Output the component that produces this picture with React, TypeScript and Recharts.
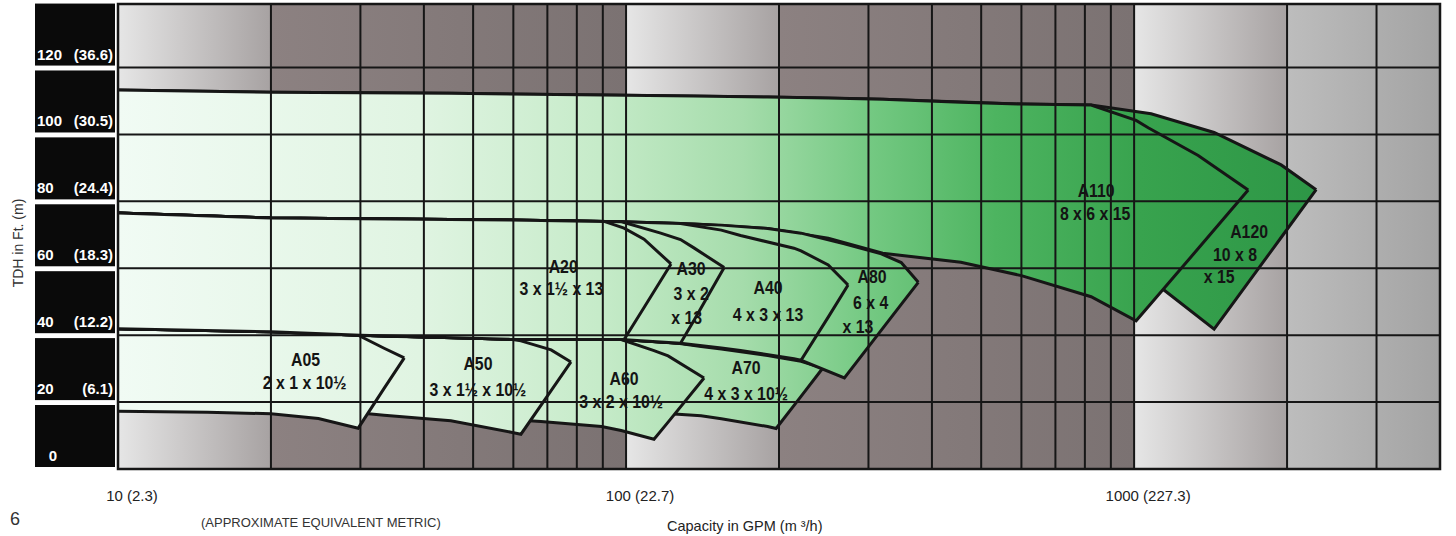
import React from "react";
import {
  ComposedChart,
  Area,
  XAxis,
  YAxis,
  ReferenceArea,
  ReferenceLine,
  ReferenceDot,
} from "recharts";

// each row: [capacity gpm, lower edge ft, upper edge ft]
const a120Pts = [
  [10, 80.0, 113.3], [20, 79.5, 112.6], [45, 79.0, 112.3], [90, 78.0, 111.8],
  [190, 76.0, 111.2], [320, 71.5, 110.5], [600, 64.0, 109.1], [823, 60.0, 108.8],
  [1080, 56.5, 106.2], [1437, 41.8, 100.6], [1947, 69.2, 90.9], [2282, 83.5, 83.5],
];
const a110Pts = [
  [10, 76.5, 113.3], [20, 75.0, 112.6], [45, 74.6, 112.3], [90, 74.0, 111.8],
  [136, 73.2, 111.5], [190, 71.9, 111.2], [250, 69.0, 110.9], [320, 64.5, 110.5],
  [456, 61.8, 109.6], [600, 57.8, 109.1], [823, 51.5, 108.8], [1009, 44.3, 104.2],
  [1066, 48.5, 102.0], [1337, 65.9, 93.7], [1677, 83.4, 83.4],
];
const a80Pts = [
  [10, 41.9, 76.5], [20, 41.0, 75.0], [30, 40.0, 74.8], [59, 38.8, 74.4],
  [98, 38.7, 73.9], [128, 37.6, 73.4], [154, 36.2, 72.9], [190, 34.5, 71.9],
  [221, 32.5, 70.5], [269, 27.2, 67.3], [318, 41.5, 64.3], [348, 49.2, 61.7],
  [376, 55.8, 55.8],
];
const a40Pts = [
  [10, 41.9, 76.5], [20, 41.0, 75.0], [30, 40.0, 74.8], [59, 38.8, 74.4],
  [98, 38.7, 73.9], [128, 37.6, 73.4], [154, 36.2, 71.4], [168, 35.4, 69.8],
  [214, 33.0, 66.0], [221, 32.5, 65.2], [250, 45.4, 61.0], [273.5, 55.0, 55.0],
];
const a30Pts = [
  [10, 41.9, 76.5], [20, 41.0, 75.0], [30, 40.0, 74.8], [59, 38.8, 74.4],
  [98, 38.7, 73.9], [117, 38.0, 70.5], [128, 37.6, 68.6], [136, 44.4, 66.1],
  [156, 60.2, 60.2],
];
const a20Pts = [
  [10, 41.9, 76.5], [20, 41.0, 75.0], [30, 40.0, 74.8], [59, 38.8, 74.4],
  [90.5, 38.7, 74.0], [99.1, 38.7, 72.0], [108.5, 48.3, 68.7], [122.6, 61.3, 61.3],
];
const a70Pts = [
  [10, 20.0, 41.9], [20, 19.3, 41.0], [30, 18.8, 40.0], [59, 17.8, 38.8],
  [98, 17.0, 38.7], [126.6, 16.4, 37.6], [140.5, 15.9, 36.6], [154, 15.0, 35.9],
  [190, 12.7, 33.9], [197.4, 12.1, 33.5], [221, 21.7, 32.2], [244, 30.2, 30.2],
];
const a60Pts = [
  [10, 19.5, 41.9], [20, 19.0, 41.0], [30, 18.3, 40.0], [45, 16.5, 39.4],
  [59, 14.8, 38.8], [68, 14.2, 38.7], [89.5, 12.7, 38.7], [97.8, 11.5, 38.7],
  [113.5, 8.9, 35.4], [121, 14.0, 33.8], [142.4, 27.2, 27.2],
];
const a50Pts = [
  [10, 18.5, 41.9], [20, 17.5, 41.0], [29.7, 16.8, 40.0], [33.4, 16.1, 39.7],
  [45.2, 14.4, 39.3], [59.4, 11.0, 38.8], [62.1, 10.4, 38.3], [71.2, 23.4, 35.6],
  [77.9, 32.0, 32.0],
];
const a05Pts = [
  [10, 17.3, 41.9], [15, 17.0, 41.5], [20, 16.5, 41.0], [24.8, 15.1, 40.5],
  [29.7, 12.2, 40.0], [33.4, 24.1, 36.1], [36.6, 33.2, 33.2],
];

// drawing order: big pumps first so the smaller envelopes sit on top
const pumpOrder = [a120Pts, a110Pts, a70Pts, a60Pts, a50Pts, a05Pts, a80Pts, a40Pts, a30Pts, a20Pts];
const pumpNames = ["A120", "A110", "A70", "A60", "A50", "A05", "A80", "A40", "A30", "A20"];

// model labels: [text, gpm, ft]
const pumpLabels = [
  ["A05", 23.4, 32.4], ["2 x 1 x 10½", 23.3, 25.8],
  ["A50", 51.1, 31.2], ["3 x 1½ x 10½", 51.1, 23.5],
  ["A60", 99.1, 26.8], ["3 x 2 x 10½", 97.8, 19.9],
  ["A70", 172.3, 30.0], ["4 x 3 x 10½", 172.3, 22.5],
  ["A20", 75.2, 60.4], ["3 x 1½ x 13", 74.6, 53.8],
  ["A30", 134.3, 59.8], ["3 x 2", 134.3, 52.3], ["x 13", 131.6, 45.0],
  ["A40", 190.3, 54.0], ["4 x 3 x 13", 190.3, 45.9],
  ["A80", 305, 57.2], ["6 x 4", 303, 49.7], ["x 13", 286, 42.5],
  ["A110", 842, 83.0], ["8 x 6 x 15", 838, 76.2],
  ["A120", 1684, 70.8], ["10 x 8", 1580, 63.9], ["x 15", 1470, 57.3],
];

const headTicks = [0, 20, 40, 60, 80, 100, 120];
const headMetric = ["", "(6.1)", "(12.2)", "(18.3)", "(24.4)", "(30.5)", "(36.6)"];
const gpmGrid = [10, 20, 30, 40, 50, 60, 70, 80, 90, 100, 200, 300, 400, 500, 600, 700, 800, 900, 1000, 2000, 3000, 4000];
const gpmLabelValues = [10, 100, 1000];
const gpmLabelText = ["10 (2.3)", "100 (22.7)", "1000 (227.3)"];

// background shading per decade
const lightBands = [[10, 20], [100, 200], [1000, 2000]];
const darkBands = [[20, 100], [200, 1000]];
const greyBands = [[2000, 4000]];

const SANS = '"Liberation Sans",Arial,Helvetica,sans-serif';
const INK = "#161616";

function HeadTick({ y, payload }: any) {
  const i = headTicks.indexOf(payload.value);
  const common = { fill: "#fff", fontSize: 15, fontWeight: 700, fontFamily: SANS };
  return (
    <g>
      <rect x={35} y={y - 64} width={80} height={62} fill="#0a0a0a" />
      {payload.value === 0 ? (
        <text x={53} y={y - 8} textAnchor="middle" {...common}>0</text>
      ) : (
        <>
          <text x={37} y={y - 8} textAnchor="start" {...common}>{payload.value}</text>
          <text x={113} y={y - 8} textAnchor="end" {...common}>{headMetric[i]}</text>
        </>
      )}
    </g>
  );
}

function GpmTick({ x, y, payload }: any) {
  const i = gpmLabelValues.indexOf(payload.value);
  if (i < 0) return <g />;
  return (
    <text x={x + 14} y={y + 24} textAnchor="middle" fontSize={15} fill="#222" fontFamily={SANS}>
      {gpmLabelText[i]}
    </text>
  );
}

const toRows = (pts: number[][]) => pts.map(([q, lo, hi]) => ({ q, range: [lo, hi] }));

export default function App() {
  return (
    <div style={{ position: "absolute", left: 0, top: 0, width: 1456, height: 536, background: "#fff" }}>
      <ComposedChart width={1456} height={536} margin={{ top: 4, right: 16, bottom: 37, left: 0 }}>
        <defs>
          <linearGradient id="greenFade" gradientUnits="userSpaceOnUse" x1={118} y1={0} x2={1320} y2={0}>
            <stop offset="0" stopColor="#f1fbf4" />
            <stop offset="0.25" stopColor="#e0f4e2" />
            <stop offset="0.4" stopColor="#c6ebc9" />
            <stop offset="0.52" stopColor="#a5dcab" />
            <stop offset="0.62" stopColor="#76ca84" />
            <stop offset="0.73" stopColor="#4db460" />
            <stop offset="0.85" stopColor="#38a34e" />
            <stop offset="1" stopColor="#2d9646" />
          </linearGradient>
          <linearGradient id="lightFade" x1="0" y1="0" x2="1" y2="0">
            <stop offset="0" stopColor="#e6e6e6" />
            <stop offset="1" stopColor="#a7a2a2" />
          </linearGradient>
          <linearGradient id="darkFade" x1="0" y1="0" x2="1" y2="0">
            <stop offset="0" stopColor="#8c8181" />
            <stop offset="1" stopColor="#7b7272" />
          </linearGradient>
          <linearGradient id="greyFade" x1="0" y1="0" x2="1" y2="0">
            <stop offset="0" stopColor="#bdbdbd" />
            <stop offset="1" stopColor="#a3a3a3" />
          </linearGradient>
        </defs>
        <XAxis
          dataKey="q"
          type="number"
          scale="log"
          domain={[10, 4000]}
          ticks={gpmGrid}
          interval={0}
          allowDataOverflow
          axisLine={false}
          tickLine={false}
          tick={<GpmTick />}
          height={30}
        />
        <YAxis
          type="number"
          domain={[0, 139]}
          ticks={headTicks}
          interval={0}
          allowDataOverflow
          axisLine={false}
          tickLine={false}
          tick={<HeadTick />}
          width={118}
        />
        {lightBands.map(([a, b]) => (
          <ReferenceArea key={"l" + a} x1={a} x2={b} y1={0} y2={139} fill="url(#lightFade)" fillOpacity={1} stroke="none" zIndex={-60} />
        ))}
        {darkBands.map(([a, b]) => (
          <ReferenceArea key={"d" + a} x1={a} x2={b} y1={0} y2={139} fill="url(#darkFade)" fillOpacity={1} stroke="none" zIndex={-60} />
        ))}
        {greyBands.map(([a, b]) => (
          <ReferenceArea key={"g" + a} x1={a} x2={b} y1={0} y2={139} fill="url(#greyFade)" fillOpacity={1} stroke="none" zIndex={-60} />
        ))}
        {pumpOrder.map((pts, i) => (
          <Area
            key={pumpNames[i]}
            name={pumpNames[i]}
            data={toRows(pts)}
            dataKey="range"
            type="linear"
            fill="url(#greenFade)"
            fillOpacity={1}
            stroke={INK}
            strokeWidth={3}
            dot={false}
            activeDot={false}
            isAnimationActive={false}
          />
        ))}
        {gpmGrid.map((v) => (
          <ReferenceLine key={"vx" + v} x={v} stroke={INK} strokeWidth={2} zIndex={450} />
        ))}
        {headTicks.map((v) => (
          <ReferenceLine key={"hy" + v} y={v} stroke={INK} strokeWidth={2} zIndex={450} />
        ))}
        <ReferenceArea x1={10} x2={4000} y1={0} y2={139} fill="none" stroke={INK} strokeWidth={2.5} zIndex={460} />
        {pumpLabels.map(([t, q, h], i) => (
          <ReferenceDot
            key={"lab" + i}
            x={q as number}
            y={h as number}
            r={1}
            zIndex={700}
            shape={(p: any) => (
              <text
                transform={`translate(${p.cx},${p.cy}) scale(0.88,1)`}
                x={0}
                y={0}
                textAnchor="middle"
                dominantBaseline="central"
                fontSize={18}
                fontWeight={700}
                fontFamily={SANS}
                fill="#141414"
              >
                {t}
              </text>
            )}
          />
        ))}
      </ComposedChart>
      <div
        style={{
          position: "absolute",
          left: 18,
          top: 243,
          transform: "translate(-50%, -50%) rotate(-90deg)",
          fontFamily: SANS,
          fontSize: 14,
          color: "#333",
          whiteSpace: "nowrap",
        }}
      >
        TDH in Ft. (m)
      </div>
      <div style={{ position: "absolute", left: 10, top: 509, fontFamily: SANS, fontSize: 18, color: "#333" }}>6</div>
      <div style={{ position: "absolute", left: 201, top: 515, fontFamily: SANS, fontSize: 13, color: "#333" }}>
        (APPROXIMATE EQUIVALENT METRIC)
      </div>
      <div style={{ position: "absolute", left: 667, top: 518, fontFamily: SANS, fontSize: 14.5, color: "#222" }}>
        Capacity in GPM (m ³/h)
      </div>
    </div>
  );
}
